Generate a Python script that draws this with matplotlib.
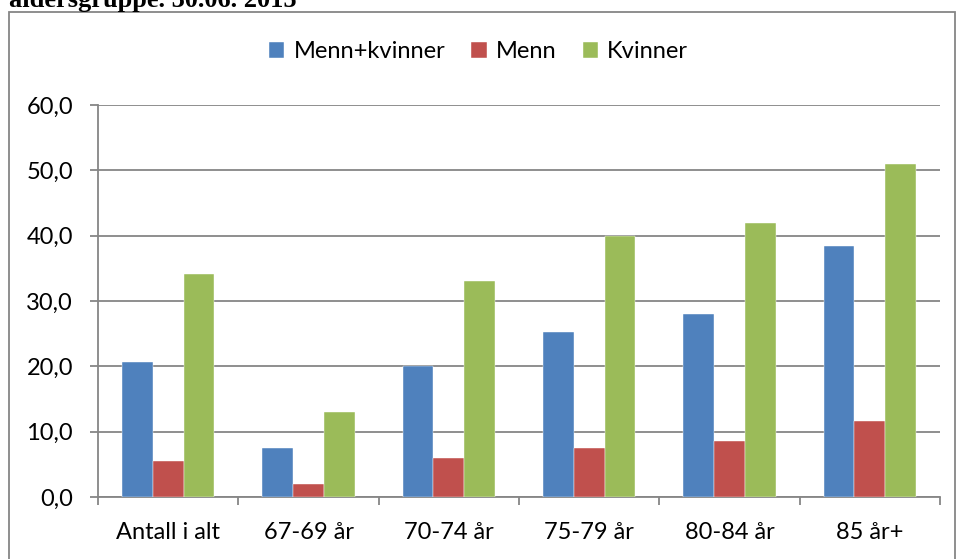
import numpy as np
import matplotlib
matplotlib.use("Agg")
import matplotlib.pyplot as plt
from matplotlib.patches import Rectangle

categories = ["Antall i alt", "67-69 år", "70-74 år", "75-79 år", "80-84 år", "85 år+"]
menn_kvinner = [20.7, 7.45, 20.0, 25.2, 28.0, 38.4]
menn = [5.5, 1.95, 5.9, 7.45, 8.5, 11.6]
kvinner = [34.2, 13.0, 33.0, 40.0, 41.9, 50.9]
series_names = ["Menn+kvinner", "Menn", "Kvinner"]
colors = ["#4F81BD", "#C0504D", "#9BBB59"]
yticks = [0, 10, 20, 30, 40, 50, 60]

plt.rcParams['font.family'] = ['Lato', 'DejaVu Sans']

fig = plt.figure(figsize=(9.57, 5.59), dpi=100)
ax = fig.add_axes([98/957, 1 - 497/559, 842/957, 392/559])

# outer chart frame
fig.patches.append(Rectangle((8.5/957, -0.01), 946/957, 1 - 12/559 + 0.01,
                             transform=fig.transFigure, fill=False,
                             edgecolor="#868686", linewidth=1.3))

# cut-off title (only its lower part is visible)
fig.text(9/957, 1 - 7/559, "aldersgruppe. 30.06. 2015", family="Liberation Serif",
         fontweight="bold", fontsize=19, ha="left", va="baseline")

x = np.arange(len(categories))
w = 0.22
for i, (vals, name) in enumerate(zip([menn_kvinner, menn, kvinner], series_names)):
    ax.bar(x + (i - 1) * w, vals, w, color=colors[i], label=name, zorder=3,
           edgecolor="white", linewidth=0.3)

ax.set_xlim(-0.5, len(categories) - 0.5)
ax.set_ylim(0, 60)
ax.set_yticks(yticks)
ax.set_yticklabels([f"{v:.1f}".replace(".", ",") for v in yticks], fontsize=17)
ax.set_xticks(x)
ax.set_xticklabels(categories, fontsize=17)
ax.tick_params(axis="x", length=0, pad=18)
ax.set_xticks(np.arange(len(categories) + 1) - 0.5, minor=True)
ax.tick_params(axis="x", which="minor", length=6, color="#868686", width=1.3)
ax.tick_params(axis="y", length=6, color="#868686", width=1.3, pad=12)
ax.grid(axis="y", color="#868686", linewidth=1.3, zorder=0)

for s in ["top", "right"]:
    ax.spines[s].set_visible(False)
for s in ["left", "bottom"]:
    ax.spines[s].set_color("#868686")
    ax.spines[s].set_linewidth(1.3)

fig.legend(loc="center", bbox_to_anchor=(0.5, 1 - 52/559), ncol=3, frameon=False,
           fontsize=17, handlelength=0.65, handleheight=0.65, handletextpad=0.4,
           columnspacing=1.1, borderpad=0)

fig.savefig("out.png", dpi=100)
